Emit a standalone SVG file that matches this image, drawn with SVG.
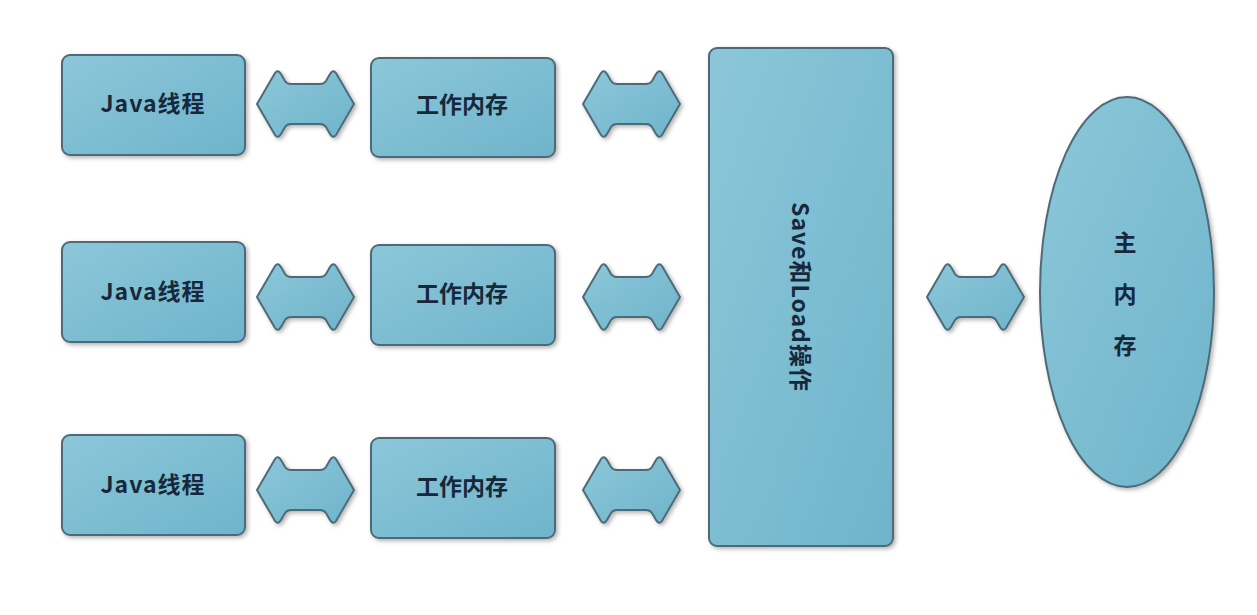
<svg xmlns="http://www.w3.org/2000/svg" width="1257" height="615" viewBox="0 0 1257 615">
<defs>
<linearGradient id="g" x1="0" y1="0" x2="1" y2="1">
<stop offset="0" stop-color="#8cc7d9"/>
<stop offset="1" stop-color="#6fb4cb"/>
</linearGradient>
<filter id="sh" x="-10%" y="-10%" width="130%" height="130%">
<feDropShadow dx="2" dy="2" stdDeviation="2" flood-color="#000" flood-opacity="0.3"/>
</filter>
<path id="arr" d="M0,0 L18,-31 Q21,-35 24,-30 L28,-23 Q30,-20 34,-20 L63,-20 Q67,-20 69,-23 L73,-30 Q76,-35 79,-31 L97,0 L79,31 Q76,35 73,30 L69,23 Q67,20 63,20 L34,20 Q30,20 28,23 L24,30 Q21,35 18,31 Z"/>
</defs>
<style>
.box{fill:url(#g);stroke:#4d6b78;stroke-width:2;filter:url(#sh)}
.arrow{fill:url(#g);stroke:#4d6b78;stroke-width:2;filter:url(#sh)}
.t{font-family:"Noto Sans CJK SC",sans-serif;font-weight:bold;font-size:23px;fill:#16283a;text-anchor:middle;dominant-baseline:central}
.w{letter-spacing:1px}
</style>
<rect width="1257" height="615" fill="#ffffff"/>
<g id="connectors">
<use href="#arr" class="arrow" x="257" y="104"/>
<use href="#arr" class="arrow" x="583" y="104"/>
<use href="#arr" class="arrow" x="257" y="297"/>
<use href="#arr" class="arrow" x="583" y="297"/>
<use href="#arr" class="arrow" x="257" y="490"/>
<use href="#arr" class="arrow" x="583" y="490"/>
<use href="#arr" class="arrow" x="927" y="297"/>
</g>
<g id="java1"><rect class="box" x="62" y="55" width="183" height="100" rx="8"/><text class="t w" x="153" y="102">Java线程</text></g>
<g id="java2"><rect class="box" x="62" y="242" width="183" height="100" rx="8"/><text class="t w" x="153" y="290">Java线程</text></g>
<g id="java3"><rect class="box" x="62" y="435" width="183" height="100" rx="8"/><text class="t w" x="153" y="483">Java线程</text></g>
<g id="work1"><rect class="box" x="371" y="58" width="184" height="99" rx="8"/><text class="t" x="462" y="103">工作内存</text></g>
<g id="work2"><rect class="box" x="371" y="245" width="184" height="100" rx="8"/><text class="t" x="462" y="292">工作内存</text></g>
<g id="work3"><rect class="box" x="371" y="438" width="184" height="100" rx="8"/><text class="t" x="462" y="485">工作内存</text></g>
<g id="saveload"><rect class="box" x="709" y="48" width="184" height="498" rx="8"/><text class="t w" transform="translate(802,297) rotate(90)" x="0" y="0">Save和Load操作</text></g>
<g id="mainmem"><ellipse class="box" cx="1127" cy="292" rx="87" ry="195"/>
<text class="t" x="1125" y="241">主</text>
<text class="t" x="1125" y="293">内</text>
<text class="t" x="1125" y="344">存</text></g>
</svg>
